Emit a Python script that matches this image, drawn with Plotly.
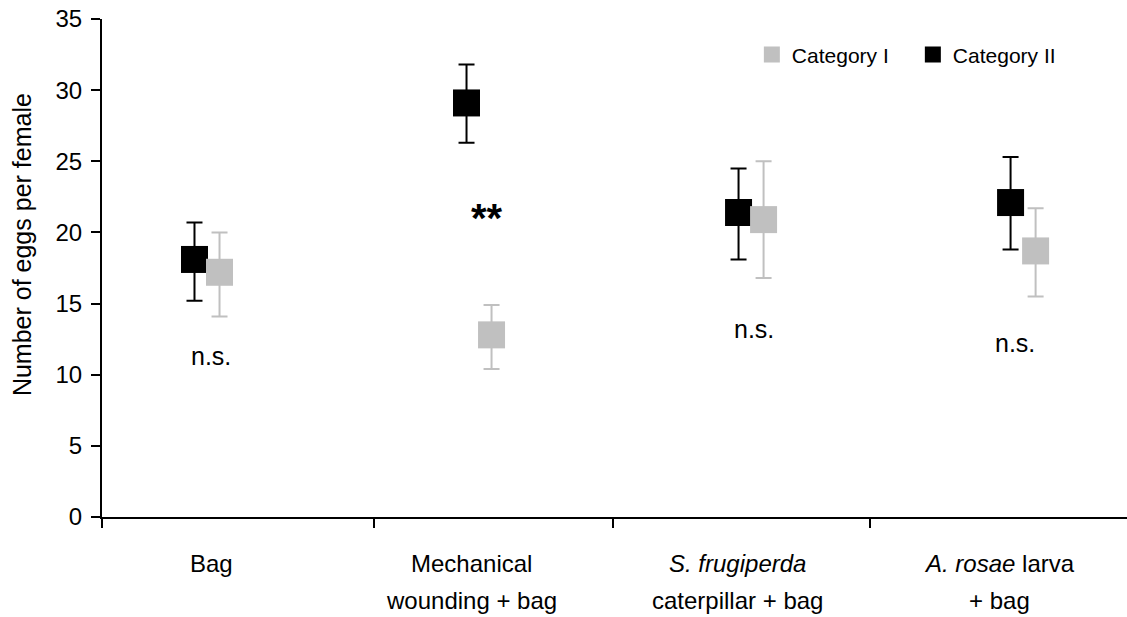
import plotly.graph_objects as go

# Treatment groups (x-axis categories), two text lines each
label_line1 = ["Bag", "Mechanical", "<i>S. frugiperda</i>", "<i>A. rosae</i> larva"]
label_line2 = ["", "wounding + bag", "caterpillar + bag", "+ bag"]

# Mean number of eggs per female and error-bar limits
cat1_mean = [17.2, 12.8, 20.9, 18.7]
cat1_upper = [20.0, 14.9, 25.0, 21.7]
cat1_lower = [14.1, 10.4, 16.8, 15.5]

cat2_mean = [18.1, 29.1, 21.4, 22.1]
cat2_upper = [20.7, 31.8, 24.5, 25.3]
cat2_lower = [15.2, 26.3, 18.1, 18.8]

# Significance marks for each group
sig_text = ["n.s.", "**", "n.s.", "n.s."]
sig_y = [11.3, 21.0, 13.2, 12.2]

FONT = "Liberation Sans, Arial, sans-serif"
GRAY = "#c0c0c0"
BLACK = "#000000"

idx = list(range(len(label_line1)))
offset = 0.046

def err(mean, upper, lower):
    return dict(
        type="data",
        symmetric=False,
        array=[u - m for u, m in zip(upper, mean)],
        arrayminus=[m - l for m, l in zip(mean, lower)],
        width=8,
        thickness=2,
    )

fig = go.Figure()

fig.add_trace(go.Scatter(
    x=[i - offset for i in idx], y=cat2_mean, mode="markers", name="Category II",
    marker=dict(symbol="square", size=27, color=BLACK),
    error_y=dict(**err(cat2_mean, cat2_upper, cat2_lower), color=BLACK),
    legendrank=2,
))
fig.add_trace(go.Scatter(
    x=[i + offset for i in idx], y=cat1_mean, mode="markers", name="Category I",
    marker=dict(symbol="square", size=27, color=GRAY),
    error_y=dict(**err(cat1_mean, cat1_upper, cat1_lower), color=GRAY),
    legendrank=1,
))

annotations = []
# significance labels
sig_shift = [0.015, 0.03, 0.01, -0.03]
for i, (t, y, s) in enumerate(zip(sig_text, sig_y, sig_shift)):
    bold = t == "**"
    annotations.append(dict(
        x=i + s, y=y, xref="x", yref="y", text=f"<b>{t}</b>" if bold else t,
        showarrow=False,
        font=dict(family=FONT, size=40 if bold else 25, color="black"),
    ))

# category labels below the axis
label_shift = [0.015, -0.026, -0.051, -0.085]
for i, (l1, l2, s) in enumerate(zip(label_line1, label_line2, label_shift)):
    for text, ys in ((l1, -35), (l2, -72)):
        if not text:
            continue
        annotations.append(dict(
            x=i + s, y=0, xref="x", yref="y", text=text, showarrow=False,
            yanchor="middle", yshift=ys - 11, align="center",
            font=dict(family=FONT, size=24, color="black"),
        ))

# y-axis title
annotations.append(dict(
    x=0, y=0.546, xref="paper", yref="paper", text="Number of eggs per female",
    textangle=-90, showarrow=False, xanchor="center", yanchor="middle",
    xshift=-80, font=dict(family=FONT, size=25, color="black"),
))

# boundaries between groups on the x-axis
dividers = [-0.386, 0.614, 1.493, 2.438]

fig.update_layout(
    width=1127, height=617,
    margin=dict(l=102, r=0, t=19, b=100),
    paper_bgcolor="white", plot_bgcolor="white",
    font=dict(family=FONT, size=24, color="black"),
    showlegend=True,
    legend=dict(
        orientation="h", x=0.634, y=0.928, xanchor="left", yanchor="middle",
        font=dict(family=FONT, size=21), bgcolor="rgba(0,0,0,0)",
        itemwidth=30, entrywidth=116,
    ),
    annotations=annotations,
    xaxis=dict(
        range=[-0.386, 3.382], showgrid=False, zeroline=False,
        showline=True, linecolor="black", linewidth=2,
        tickmode="array", tickvals=dividers, ticktext=[""] * len(dividers),
        ticks="outside", ticklen=9, tickwidth=1.5, tickcolor="black",
    ),
    yaxis=dict(
        range=[0, 35], showgrid=False, zeroline=False,
        showline=True, linecolor="black", linewidth=2,
        tickmode="array", tickvals=list(range(0, 36, 5)),
        ticks="outside", ticklen=9, tickwidth=1.5, tickcolor="black",
        tickfont=dict(family=FONT, size=24),
        ticklabelstandoff=4,
    ),
)

fig.write_html("out.html")
